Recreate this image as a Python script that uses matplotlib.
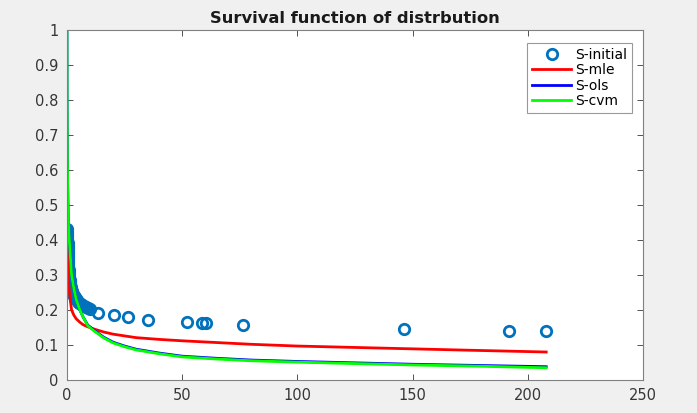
import matplotlib
matplotlib.use("Agg")
import matplotlib.pyplot as plt

# observed survival points (S-initial)
x_init = [0.05, 0.1, 0.1, 0.15, 0.2, 0.2, 0.25, 0.3, 0.3, 0.35, 0.4, 0.4, 0.45, 0.5, 0.5,
          0.55, 0.6, 0.7, 0.8, 0.9, 1.0, 1.1, 1.2, 1.4, 1.6, 1.8, 2.0, 2.3, 2.6, 3.0, 3.4,
          3.8, 4.3, 4.8, 5.4, 6.0, 6.7, 7.5, 8.3, 9.2, 10.2, 13.4, 20.5, 26.3, 35.0, 52.3,
          58.5, 60.3, 76.2, 146.4, 191.9, 208.0]
y_init = [0.430, 0.424, 0.418, 0.411, 0.404, 0.397, 0.390, 0.383, 0.376, 0.369, 0.362,
          0.355, 0.348, 0.341, 0.334, 0.327, 0.320, 0.313, 0.306, 0.299, 0.292, 0.285,
          0.279, 0.273, 0.267, 0.261, 0.255, 0.250, 0.245, 0.240, 0.236, 0.232, 0.228,
          0.224, 0.221, 0.218, 0.215, 0.212, 0.209, 0.206, 0.203, 0.192, 0.185, 0.180,
          0.172, 0.165, 0.162, 0.162, 0.157, 0.145, 0.140, 0.140]

# fitted survival curves
x_fit = [0, 0.05, 0.15, 0.3, 0.6, 1.0, 1.5, 2, 3, 4, 5.6, 7, 9, 12, 16, 20, 25, 30, 40,
         50, 65, 80, 100, 125, 150, 175, 208]
s_mle = [0.5, 0.42, 0.36, 0.32, 0.285, 0.255, 0.225, 0.2, 0.185, 0.175, 0.165, 0.158,
         0.152, 0.145, 0.137, 0.131, 0.126, 0.121, 0.116, 0.112, 0.107, 0.102, 0.097,
         0.093, 0.089, 0.085, 0.080]
s_ols = [1.0, 0.8, 0.65, 0.55, 0.45, 0.4, 0.35, 0.3, 0.26, 0.23, 0.2, 0.18, 0.157,
         0.141, 0.122, 0.108, 0.097, 0.088, 0.077, 0.068, 0.062, 0.057, 0.053, 0.049,
         0.045, 0.042, 0.038]
s_cvm = [1.0, 0.8, 0.65, 0.55, 0.45, 0.4, 0.35, 0.3, 0.26, 0.23, 0.2, 0.18, 0.155,
         0.139, 0.12, 0.106, 0.095, 0.086, 0.075, 0.066, 0.06, 0.055, 0.051, 0.047,
         0.043, 0.040, 0.035]

plt.rcParams['font.family'] = ['DejaVu Sans']

fig = plt.figure(figsize=(6.97, 4.13), dpi=100, facecolor='#f0f0f0')
ax = fig.add_axes([0.0961, 0.0799, 0.8264, 0.8475])

ax.plot(x_init, y_init, 'o', color='#0072bd', mfc='none', mew=2, ms=7.5, label='S-initial')
ax.plot(x_fit, s_mle, color='#ff0000', lw=2, label='S-mle')
ax.plot(x_fit, s_ols, color='#0000ff', lw=2, label='S-ols')
ax.plot(x_fit, s_cvm, color='#00ff00', lw=2, label='S-cvm')

ax.set_xlim(0, 250)
ax.set_ylim(0, 1)
ax.set_xticks([0, 50, 100, 150, 200, 250])
ax.set_yticks([0, 0.1, 0.2, 0.3, 0.4, 0.5, 0.6, 0.7, 0.8, 0.9, 1])
ax.set_yticklabels(['0', '0.1', '0.2', '0.3', '0.4', '0.5', '0.6', '0.7', '0.8', '0.9', '1'])
ax.tick_params(direction='in', top=True, right=True, length=4, width=0.6,
               colors='#363636', labelsize=10.5, pad=6)
for s in ax.spines.values():
    s.set_color('#808080')
    s.set_linewidth(0.8)

ax.set_title('Survival function of distrbution', fontsize=11.8, fontweight='bold',
             color='#1a1a1a', pad=5)

leg = ax.legend(loc='upper right', bbox_to_anchor=(0.981, 0.963), borderaxespad=0,
                fancybox=False, edgecolor='#808080', fontsize=10, handlelength=2.8,
                handletextpad=0.3, labelspacing=0.1, borderpad=0.35)
leg.get_frame().set_linewidth(0.8)

fig.savefig('out.png', dpi=100, facecolor=fig.get_facecolor())
plt.close(fig)
